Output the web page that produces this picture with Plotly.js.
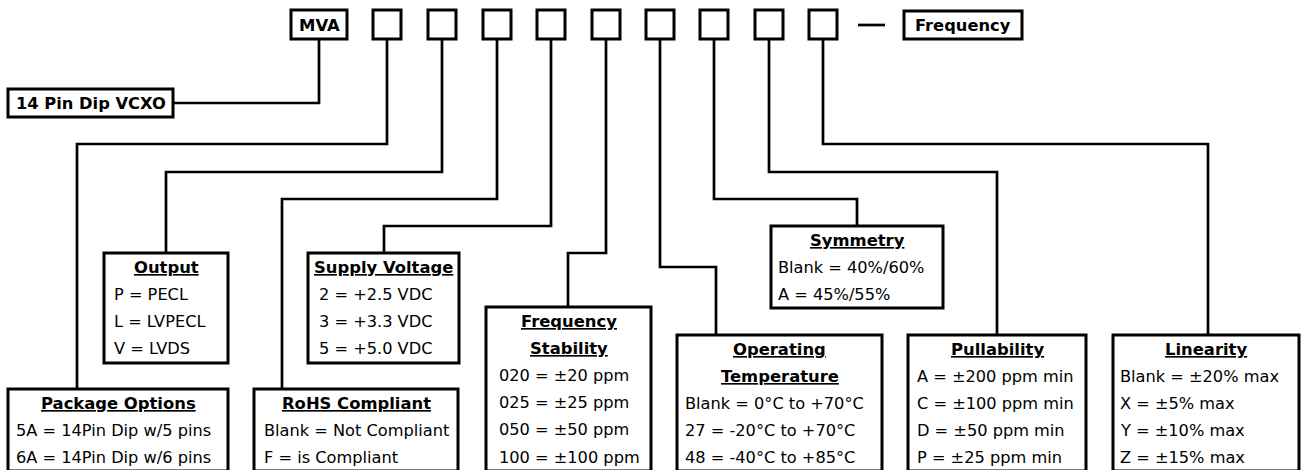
<!DOCTYPE html>
<html>
<head>
<meta charset="utf-8">
<script src="https://cdn.plot.ly/plotly-3.0.1.min.js"></script>
<style>html,body{margin:0;padding:0;background:#fff;}#chart{width:1302px;height:470px;}</style>
</head>
<body>
<div id="chart"></div>
<script>
// ---------- DATA ----------
const codePrefix = 'MVA';
const codeSuffix = 'Frequency';
const baseProduct = '14 Pin Dip VCXO';
const codeSlotCount = 9;

const groupTitles = [
  ['Package Options'],
  ['Output'],
  ['RoHS Compliant'],
  ['Supply Voltage'],
  ['Frequency', 'Stability'],
  ['Operating', 'Temperature'],
  ['Symmetry'],
  ['Pullability'],
  ['Linearity']
];

const packageOptions = ['5A = 14Pin Dip w/5 pins', '6A = 14Pin Dip w/6 pins'];
const outputOptions = ['P = PECL', 'L = LVPECL', 'V = LVDS'];
const rohsOptions = ['Blank = Not Compliant', 'F = is Compliant'];
const supplyOptions = ['2 = +2.5 VDC', '3 = +3.3 VDC', '5 = +5.0 VDC'];
const stabilityOptions = ['020 = \u00b120 ppm', '025 = \u00b125 ppm', '050 = \u00b150 ppm', '100 = \u00b1100 ppm'];
const temperatureOptions = ['Blank = 0\u00b0C to +70\u00b0C', '27 = -20\u00b0C to +70\u00b0C', '48 = -40\u00b0C to +85\u00b0C'];
const symmetryOptions = ['Blank = 40%/60%', 'A = 45%/55%'];
const pullabilityOptions = ['A = \u00b1200 ppm min', 'C = \u00b1100 ppm min', 'D = \u00b150 ppm min', 'P = \u00b125 ppm min'];
const linearityOptions = ['Blank = \u00b120% max', 'X = \u00b15% max', 'Y = \u00b110% max', 'Z = \u00b115% max'];

const groupOptions = [packageOptions, outputOptions, rohsOptions, supplyOptions, stabilityOptions,
  temperatureOptions, symmetryOptions, pullabilityOptions, linearityOptions];

// ---------- GEOMETRY (layout only) ----------
const slotCenters = [387, 442, 497, 551, 606, 660, 714, 769, 823];
const slotHalf = 14, slotTop = 10, slotBottom = 39;
const bottomY = 471;
const groupGeom = [
  {x0: 8,    x1: 228,  top: 389, bottom: bottomY, level: 144, attach: 77,   indent: 7},
  {x0: 104,  x1: 228,  top: 253, bottom: 363,     level: 172, attach: 166,  indent: 9},
  {x0: 254,  x1: 458,  top: 389, bottom: bottomY, level: 199, attach: 282,  indent: 9},
  {x0: 308,  x1: 459,  top: 253, bottom: 363,     level: 226, attach: 384,  indent: 10},
  {x0: 486,  x1: 651,  top: 307, bottom: bottomY, level: 253, attach: 568,  indent: 12},
  {x0: 677,  x1: 882,  top: 335, bottom: bottomY, level: 267, attach: 716,  indent: 7},
  {x0: 771,  x1: 943,  top: 226, bottom: 308,     level: 199, attach: 857,  indent: 6},
  {x0: 908,  x1: 1086, top: 335, bottom: bottomY, level: 172, attach: 997,  indent: 8},
  {x0: 1113, x1: 1299, top: 335, bottom: bottomY, level: 144, attach: 1208, indent: 6}
];
const rowStep = 27.2, firstRow = 14;

const FONT = 'DejaVu Sans, Verdana, sans-serif';
const shapes = [];
const annotations = [];
const LINE = {color: '#000', width: 2.7};
const BOX = {color: '#000', width: 3};

function rect(x0, y0, x1, y1) {
  shapes.push({type: 'rect', xref: 'x', yref: 'y', x0, y0, x1, y1, line: BOX, fillcolor: '#fff', layer: 'above'});
}
function path(d) {
  shapes.push({type: 'path', xref: 'x', yref: 'y', path: d, line: LINE, layer: 'above'});
}
function label(text, x, y, anchor, bold, under, size) {
  const font = {family: FONT, size: size, color: '#000'};
  if (under) font.lineposition = 'under';
  annotations.push({xref: 'x', yref: 'y', x, y, text: bold ? '<b>' + text + '</b>' : text,
    showarrow: false, xanchor: anchor, yanchor: 'middle', font, borderpad: 0});
}

// connectors first
path('M 319 39 V 103 H 173');
groupGeom.forEach((g, i) => {
  const cx = slotCenters[i];
  path(`M ${cx} ${slotBottom} V ${g.level} H ${g.attach} V ${g.top}`);
});
// dash
path('M 858 25 H 885');

// top row boxes
rect(291, 10, 347, 39);
label(codePrefix, 319, 25, 'center', true, false, 16.5);
for (let i = 0; i < codeSlotCount; i++) {
  rect(slotCenters[i] - slotHalf, slotTop, slotCenters[i] + slotHalf, slotBottom);
}
rect(904, 11, 1022, 39);
label(codeSuffix, 963, 25.5, 'center', true, false, 16.3);

rect(8, 89, 173, 117);
label(baseProduct, 90.5, 103.5, 'center', true, false, 16.3);

// option boxes
groupGeom.forEach((g, i) => {
  rect(g.x0, g.top, g.x1, g.bottom);
  let row = 0;
  groupTitles[i].forEach(t => {
    label(t, (g.x0 + g.x1) / 2, g.top + firstRow + rowStep * row, 'center', true, true, 16.4);
    row++;
  });
  groupOptions[i].forEach(o => {
    label(o, g.x0 + g.indent, g.top + firstRow + rowStep * row, 'left', false, false, 16.2);
    row++;
  });
});

const layout = {
  width: 1302, height: 470,
  margin: {l: 0, r: 0, t: 0, b: 0, pad: 0},
  paper_bgcolor: '#fff', plot_bgcolor: '#fff',
  xaxis: {range: [0, 1302], visible: false, fixedrange: true},
  yaxis: {range: [470, 0], visible: false, fixedrange: true},
  showlegend: false,
  shapes, annotations
};
Plotly.newPlot('chart', [], layout, {staticPlot: true, displayModeBar: false});
</script>
</body>
</html>
